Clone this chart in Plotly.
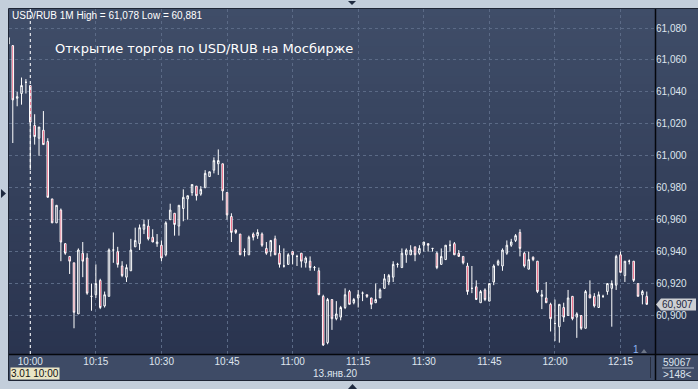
import plotly.graph_objects as go
import pandas as pd

# ---------------- data (USD/RUB, 1-minute bars, 13.01.2020) ----------------
start_time = "2020-01-13 09:55"
open_ = [61.070, 61.069, 61.036, 61.039, 61.046, 61.044, 61.019, 61.011, 61.016, 61.009,
         60.973, 60.958, 60.966, 60.945, 60.937, 60.933, 60.901, 60.939, 60.936, 60.912,
         60.913, 60.922, 60.906, 60.912, 60.941, 60.940, 60.931, 60.924, 60.928, 60.943,
         60.945, 60.954, 60.956, 60.949, 60.945, 60.944, 60.938, 60.960, 60.964, 60.956,
         60.967, 60.973, 60.977, 60.981, 60.976, 60.980, 60.987, 60.991, 60.995, 60.995,
         60.977, 60.962, 60.9535, 60.951, 60.940, 60.938, 60.951, 60.950, 60.951, 60.942,
         60.940, 60.948, 60.939, 60.931, 60.932, 60.940, 60.937, 60.939, 60.933, 60.934,
         60.930, 60.928, 60.912, 60.883, 60.910, 60.898, 60.899, 60.905, 60.915, 60.908,
         60.911, 60.914, 60.913, 60.911, 60.908, 60.911, 60.917, 60.921, 60.924, 60.932,
         60.930, 60.938, 60.938, 60.943, 60.939, 60.944, 60.945, 60.942, 60.939, 60.932,
         60.935, 60.944, 60.945, 60.939, 60.937, 60.931, 60.917, 60.918, 60.908, 60.916,
         60.909, 60.921, 60.932, 60.931, 60.939, 60.944, 60.947, 60.952, 60.939, 60.929,
         60.9365, 60.934, 60.912, 60.911, 60.907, 60.895, 60.893, 60.905, 60.900, 60.912,
         60.899, 60.900, 60.892, 60.913, 60.912, 60.905, 60.912, 60.915, 60.917, 60.919,
         60.938, 60.925, 60.934, 60.934, 60.920, 60.913, 60.912]
high = [61.075, 61.069, 61.040, 61.049, 61.048, 61.044, 61.026, 61.018, 61.028, 61.011,
        60.973, 60.969, 60.967, 60.945, 60.937, 60.933, 60.942, 60.946, 60.939, 60.920,
        60.932, 60.923, 60.915, 60.942, 60.952, 60.943, 60.934, 60.932, 60.948, 60.955,
        60.957, 60.960, 60.960, 60.954, 60.951, 60.947, 60.959, 60.970, 60.964, 60.969,
        60.979, 60.975, 60.982, 60.981, 60.981, 60.991, 60.990, 60.999, 61.004, 60.995,
        60.977, 60.964, 60.954, 60.951, 60.942, 60.950, 60.952, 60.954, 60.952, 60.946,
        60.947, 60.950, 60.944, 60.942, 60.939, 60.940, 60.938, 60.939, 60.937, 60.937,
        60.931, 60.930, 60.913, 60.911, 60.910, 60.909, 60.906, 60.917, 60.916, 60.911,
        60.916, 60.915, 60.913, 60.911, 60.920, 60.917, 60.926, 60.926, 60.934, 60.933,
        60.942, 60.942, 60.944, 60.943, 60.944, 60.946, 60.945, 60.942, 60.940, 60.942,
        60.944, 60.947, 60.946, 60.941, 60.937, 60.933, 60.931, 60.922, 60.916, 60.917,
        60.920, 60.932, 60.935, 60.942, 60.947, 60.948, 60.951, 60.954, 60.940, 60.940,
        60.937, 60.934, 60.916, 60.921, 60.908, 60.910, 60.907, 60.908, 60.916, 60.912,
        60.902, 60.900, 60.916, 60.922, 60.914, 60.915, 60.913, 60.920, 60.922, 60.938,
        60.940, 60.934, 60.935, 60.934, 60.920, 60.916, 60.915]
low = [61.069, 61.008, 61.031, 61.032, 61.039, 60.991, 61.007, 61.000, 61.007, 60.974,
       60.958, 60.958, 60.934, 60.938, 60.926, 60.892, 60.901, 60.924, 60.913, 60.903,
       60.911, 60.904, 60.905, 60.912, 60.933, 60.930, 60.924, 60.921, 60.928, 60.943,
       60.941, 60.951, 60.947, 60.946, 60.943, 60.934, 60.937, 60.960, 60.950, 60.950,
       60.959, 60.960, 60.975, 60.972, 60.975, 60.980, 60.987, 60.989, 60.988, 60.972,
       60.960, 60.946, 60.951, 60.938, 60.937, 60.938, 60.947, 60.948, 60.943, 60.938,
       60.937, 60.938, 60.930, 60.930, 60.932, 60.932, 60.931, 60.930, 60.930, 60.928,
       60.928, 60.913, 60.881, 60.882, 60.891, 60.897, 60.897, 60.904, 60.907, 60.907,
       60.905, 60.909, 60.911, 60.904, 60.908, 60.911, 60.917, 60.919, 60.921, 60.930,
       60.930, 60.933, 60.938, 60.934, 60.938, 60.940, 60.940, 60.940, 60.929, 60.932,
       60.935, 60.940, 60.938, 60.937, 60.932, 60.913, 60.914, 60.910, 60.908, 60.909,
       60.909, 60.919, 60.931, 60.928, 60.938, 60.943, 60.946, 60.937, 60.930, 60.929,
       60.934, 60.914, 60.904, 60.908, 60.890, 60.884, 60.883, 60.896, 60.900, 60.897,
       60.886, 60.891, 60.892, 60.911, 60.905, 60.905, 60.911, 60.913, 60.893, 60.916,
       60.927, 60.921, 60.932, 60.921, 60.912, 60.907, 60.907]
close = [61.074, 61.035, 61.037, 61.044, 61.046, 61.021, 61.012, 61.018, 61.007, 60.974,
         60.958, 60.969, 60.946, 60.939, 60.934, 60.902, 60.941, 60.934, 60.914, 60.912,
         60.920, 60.905, 60.913, 60.941, 60.941, 60.932, 60.925, 60.930, 60.941, 60.947,
         60.955, 60.957, 60.948, 60.946, 60.946, 60.936, 60.958, 60.966, 60.957, 60.969,
         60.974, 60.975, 60.982, 60.975, 60.979, 60.989, 60.990, 60.997, 60.997, 60.978,
         60.963, 60.952, 60.952, 60.938, 60.940, 60.949, 60.949, 60.952, 60.944, 60.939,
         60.947, 60.938, 60.932, 60.931, 60.938, 60.938, 60.937, 60.934, 60.936, 60.930,
         60.930, 60.913, 60.8815, 60.910, 60.898, 60.901, 60.905, 60.913, 60.907, 60.910,
         60.913, 60.914, 60.912, 60.907, 60.910, 60.916, 60.923, 60.925, 60.932, 60.932,
         60.939, 60.941, 60.941, 60.938, 60.942, 60.946, 60.944, 60.942, 60.930, 60.937,
         60.944, 60.944, 60.938, 60.937, 60.933, 60.915, 60.917, 60.910, 60.915, 60.910,
         60.920, 60.931, 60.934, 60.941, 60.944, 60.946, 60.950, 60.942, 60.931, 60.935,
         60.935, 60.915, 60.913, 60.908, 60.898, 60.895, 60.907, 60.899, 60.911, 60.898,
         60.901, 60.892, 60.915, 60.911, 60.906, 60.913, 60.912, 60.920, 60.920, 60.937,
         60.927, 60.934, 60.934, 60.922, 60.912, 60.915, 60.907]

x_ticks = ["10:00", "10:15", "10:30", "10:45", "11:00", "11:15", "11:30", "11:45", "12:00", "12:15"]
y_ticks = [60.900, 60.920, 60.940, 60.960, 60.980, 61.000, 61.020, 61.040, 61.060, 61.080]

title_text = "USD/RUB 1M High = 61,078 Low = 60,881"
subtitle_text = "Открытие торгов по USD/RUB на Мосбирже"
last_price_text = "60,907"
date_text = "13.янв.20"
cursor_text = "3.01 10:00"
volume_text = "59067"
bars_text = "&gt;148&lt;"

times = pd.date_range(start_time, periods=len(open_), freq="1min")
day = "2020-01-13 "

# ---------------- geometry helpers (pixel -> paper) ----------------
W, H = 698, 389
L, R, T, B = 9, 655, 9, 354
SB = 380  # bottom of the time-axis strip


def px(X):
    return (X - L) / (R - L)


def py(Y):
    return (B - Y) / (B - T)


fig = go.Figure()
fig.add_trace(go.Candlestick(
    x=times, open=open_, high=high, low=low, close=close,
    increasing=dict(line=dict(color="#ffffff", width=1), fillcolor="rgba(0,0,0,0)"),
    decreasing=dict(line=dict(color="#ffffff", width=1), fillcolor="#e4143f"),
    whiskerwidth=0, hoverinfo="skip", showlegend=False,
))

shapes = []
# gradient background bands (plot + right axis panel)
N = 46
top_c = (63, 77, 104)
bot_c = (42, 52, 79)
for i in range(N):
    f = i / (N - 1)
    c = tuple(round(top_c[k] + (bot_c[k] - top_c[k]) * f) for k in range(3))
    y0 = T + (B - T) * i / N
    y1 = T + (B - T) * (i + 1) / N
    shapes.append(dict(type="rect", xref="paper", yref="paper", layer="below",
                       x0=px(L), x1=px(W), y0=py(y1 + 0.5), y1=py(y0),
                       fillcolor="rgb(%d,%d,%d)" % c, line=dict(width=0)))
# bottom axis strip
shapes.append(dict(type="rect", xref="paper", yref="paper", layer="below",
                   x0=px(L), x1=px(W), y0=py(SB), y1=py(B),
                   fillcolor="#3e4b66", line=dict(width=0)))
# separator in bottom strip
shapes.append(dict(type="line", xref="paper", yref="paper", x0=px(650.5), x1=px(650.5),
                   y0=py(378), y1=py(357), line=dict(color="#262d3e", width=1)))
# black frame lines
shapes.append(dict(type="line", xref="paper", yref="paper", x0=px(L), x1=px(W),
                   y0=py(354.5), y1=py(354.5), line=dict(color="#05070c", width=1.5)))
shapes.append(dict(type="line", xref="paper", yref="paper", x0=px(655.5), x1=px(655.5),
                   y0=py(SB), y1=py(T), line=dict(color="#05070c", width=1.5)))
# outer dark border
shapes.append(dict(type="rect", xref="paper", yref="paper", x0=px(8.5), x1=px(699),
                   y0=py(SB + 0.5), y1=py(8.5), line=dict(color="#1e2535", width=1),
                   fillcolor="rgba(0,0,0,0)"))
# white dotted session line at 10:00
shapes.append(dict(type="line", xref="x", yref="paper", x0=day + "10:00", x1=day + "10:00",
                   y0=0, y1=1, line=dict(color="#ffffff", width=1, dash="dot")))
# last price marker
shapes.append(dict(type="path", xref="paper", yref="paper",
                   path="M %f,%f L %f,%f L %f,%f L %f,%f L %f,%f Z" % (
                       px(656), py(304.5), px(661), py(298.5), px(696), py(298.5),
                       px(696), py(310.5), px(661), py(310.5)),
                   fillcolor="#cdcfd3", line=dict(width=0)))
# underline between volume and bar count
shapes.append(dict(type="line", xref="paper", yref="paper", x0=px(662), x1=px(694),
                   y0=py(368), y1=py(368), line=dict(color="#aab4c4", width=1)))
# small triangle next to "1"
shapes.append(dict(type="path", xref="paper", yref="paper",
                   path="M %f,%f L %f,%f L %f,%f Z" % (px(641), py(353), px(647), py(353), px(644), py(349)),
                   fillcolor="#6d7688", line=dict(width=0)))
# scroll triangles on the frame
shapes.append(dict(type="path", xref="paper", yref="paper",
                   path="M %f,%f L %f,%f L %f,%f Z" % (px(348), py(1), px(356), py(1), px(352), py(5)),
                   fillcolor="#1f2a40", line=dict(width=0)))
shapes.append(dict(type="path", xref="paper", yref="paper",
                   path="M %f,%f L %f,%f L %f,%f Z" % (px(1), py(189), px(1), py(198), px(6), py(193.5)),
                   fillcolor="#1f2a40", line=dict(width=0)))
shapes.append(dict(type="path", xref="paper", yref="paper",
                   path="M %f,%f L %f,%f L %f,%f Z" % (px(348), py(389), px(357), py(389), px(352.5), py(384)),
                   fillcolor="#1f2a40", line=dict(width=0)))

FONT = "Liberation Sans, Arial, sans-serif"
annotations = [
    dict(text=title_text, x=px(10), y=py(15), xanchor="left", yanchor="middle",
         font=dict(family=FONT, size=10, color="#ffffff")),
    dict(text=subtitle_text, x=px(53), y=py(48), xanchor="left", yanchor="middle",
         font=dict(family="DejaVu Sans, sans-serif", size=13, color="#ffffff")),
    dict(text=last_price_text, x=px(677), y=py(304.5), xanchor="center", yanchor="middle",
         font=dict(family=FONT, size=10, color="#1d2740")),
    dict(text=date_text, x=px(335), y=py(373), xanchor="center", yanchor="middle",
         font=dict(family=FONT, size=10, color="#dfe5ee")),
    dict(text=cursor_text, x=px(9.5), y=py(373), xanchor="left", yanchor="middle",
         bgcolor="#e9e5c6", borderpad=0,
         font=dict(family=FONT, size=10, color="#111111")),
    dict(text=volume_text, x=px(677), y=py(362), xanchor="center", yanchor="middle",
         font=dict(family=FONT, size=10, color="#dfe5ee")),
    dict(text=bars_text, x=px(677), y=py(374), xanchor="center", yanchor="middle",
         font=dict(family=FONT, size=10, color="#dfe5ee")),
    dict(text="1", x=px(636), y=py(349), xanchor="center", yanchor="middle",
         font=dict(family=FONT, size=10, color="#8db6f2")),
]
for a in annotations:
    a.update(xref="paper", yref="paper", showarrow=False)

fig.update_layout(
    width=W, height=H,
    margin=dict(l=L, r=W - R, t=T, b=H - B, pad=0),
    paper_bgcolor="#c3cedb",
    plot_bgcolor="rgba(0,0,0,0)",
    separators=", ",
    boxgap=0.5,
    shapes=shapes,
    annotations=annotations,
    showlegend=False,
    xaxis=dict(
        type="date",
        range=[day + "09:55:08", day + "12:22:53"],
        rangeslider=dict(visible=False),
        tickvals=[day + t for t in x_ticks],
        ticktext=x_ticks,
        showgrid=True, gridcolor="#5b6a86", griddash="3px,3px", gridwidth=1,
        showline=False, zeroline=False, ticks="",
        tickfont=dict(family=FONT, size=10, color="#dfe5ee"),
        fixedrange=True,
    ),
    yaxis=dict(
        side="right",
        range=[60.8759, 61.0919],
        tickvals=y_ticks,
        tickformat=".3f",
        showgrid=True, gridcolor="#5b6a86", griddash="3px,3px", gridwidth=1,
        showline=False, zeroline=False, ticks="",
        tickfont=dict(family=FONT, size=10, color="#dfe5ee"),
        fixedrange=True,
    ),
)

fig.write_html("out.html")
